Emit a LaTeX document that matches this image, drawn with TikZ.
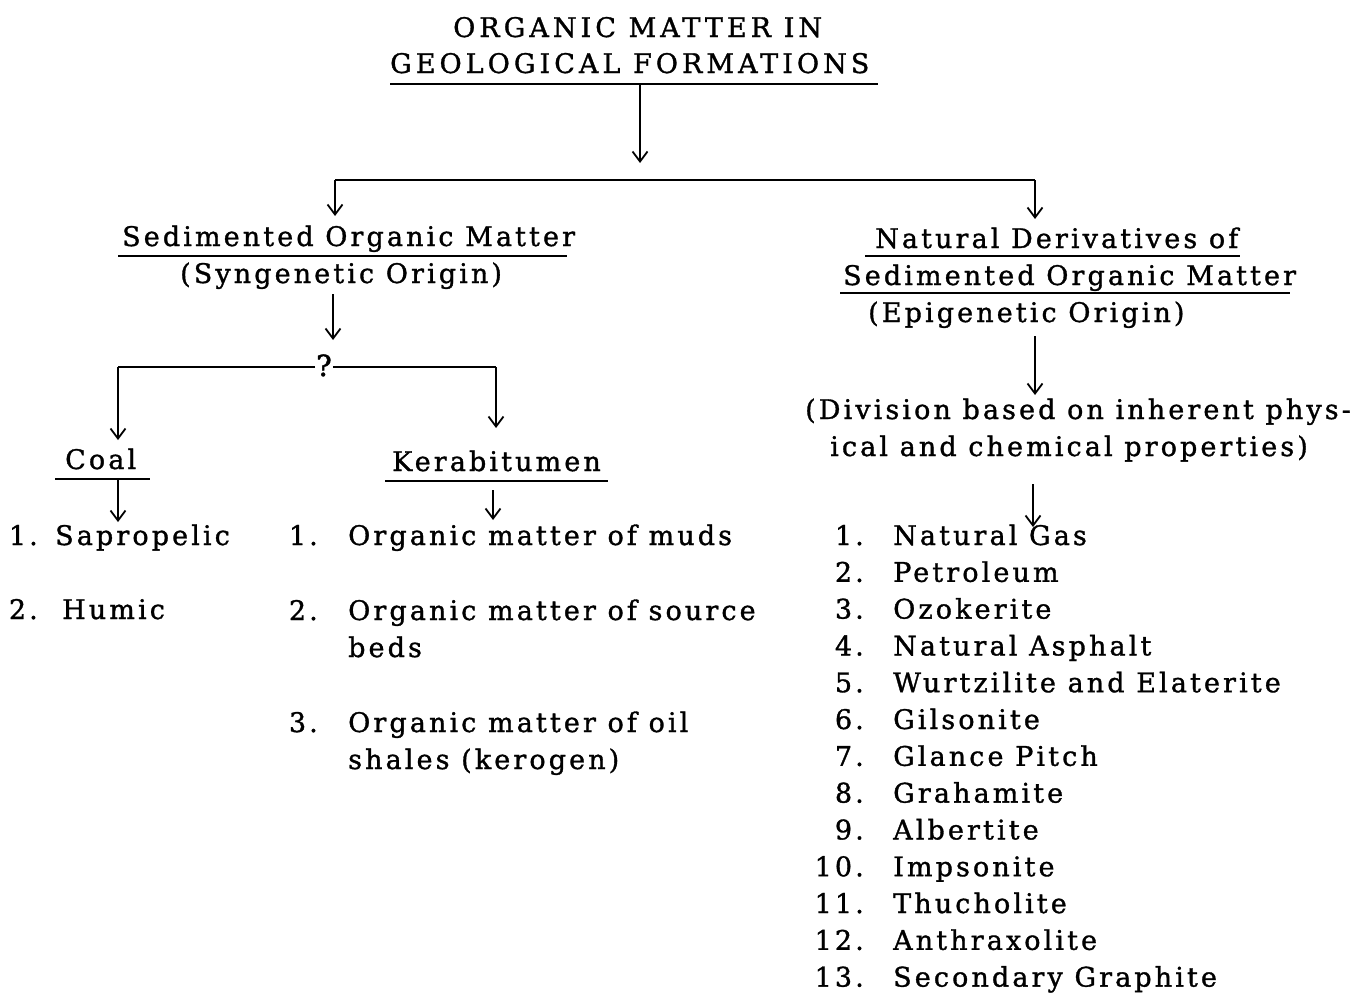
\documentclass[tikz,border=0pt]{standalone}
\usepackage{fontspec}
\setmainfont{DejaVu Serif}[LetterSpace=11.5,FakeBold=1.2]
\newfontfamily\titlefont{DejaVu Serif}[LetterSpace=15,FakeBold=1.2]
\newfontfamily\qfont{DejaVu Serif}[FakeBold=1.6]
\usetikzlibrary{arrows.meta}
\begin{document}
\begin{tikzpicture}[x=1pt,y=-1pt,
  txt/.style={anchor=base west,inner sep=0pt,font=\fontsize{27}{31}\selectfont},
  ttl/.style={anchor=base west,inner sep=0pt,font=\titlefont\fontsize{27}{31}\selectfont},
  num/.style={anchor=base east,inner sep=0pt,font=\fontsize{27}{31}\selectfont},
  ln/.style={line width=2pt},
  uline/.style={line width=2.2pt},
  arr/.style={line width=2pt,-{Straight Barb[length=10pt,width=15pt,line width=1.8pt]}}]
\useasboundingbox (0,0) rectangle (1358,993);
% title
\node[ttl] (t1) at (453,37) {ORGANIC MATTER IN};
\node[ttl] (t2) at (390,73) {GEOLOGICAL FORMATIONS};
\draw[uline] (390,84) -- (878,84);
% level 2
\node[txt] (s1) at (122,246) {Sedimented Organic Matter};
\draw[uline] (118,256) -- (567,256);
\node[txt] (s2) at (180,283) {(Syngenetic Origin)};
\node[txt] (n1) at (875,248) {Natural Derivatives of};
\draw[uline] (865,256) -- (1240,256);
\node[txt] (n2) at (843,285) {Sedimented Organic Matter};
\draw[uline] (840,293) -- (1290,293);
\node[txt] (n3) at (868,322) {(Epigenetic Origin)};
% question
\node[anchor=base,inner sep=1pt,font=\qfont\fontsize{29}{31}\selectfont] (q) at (324,376) {?};
% level 3
\node[txt] (coal) at (65,469) {Coal};
\draw[uline] (55,479) -- (150,479);
\node[txt] (ker) at (392,471) {Kerabitumen};
\draw[uline] (385,481) -- (608,481);
\node[txt] (d1) at (805,419) {(Division based on inherent phys-};
\node[txt] (d2) at (830,456) {ical and chemical properties)};
% left list
\node[num] (l1n) at (38,545) {1.};
\node[txt] (l1) at (55,545) {Sapropelic};
\node[num] (l2n) at (38,619) {2.};
\node[txt] (l2) at (62,619) {Humic};
% middle list
\node[num] (m1n) at (318,545) {1.};
\node[txt] (m1) at (348,545) {Organic matter of muds};
\node[num] (m2n) at (318,620) {2.};
\node[txt] (m2) at (348,620) {Organic matter of source};
\node[txt] (m2b) at (348,657) {beds};
\node[num] (m3n) at (318,732) {3.};
\node[txt] (m3) at (348,732) {Organic matter of oil};
\node[txt] (m3b) at (348,769) {shales (kerogen)};
% right list
\foreach \i/\t [count=\k from 0] in {1/Natural Gas,2/Petroleum,3/Ozokerite,4/Natural Asphalt,5/Wurtzilite and Elaterite,6/Gilsonite,7/Glance Pitch,8/Grahamite,9/Albertite,10/Impsonite,11/Thucholite,12/Anthraxolite,13/Secondary Graphite}{
  \node[num] (r\i n) at (864,545+36.8*\k) {\i.};
  \node[txt] (r\i) at (893,545+36.8*\k) {\t};
}
% connectors
\coordinate (a1s) at (640,84);
\coordinate (a1e) at (640,163);
\draw[arr] (a1s) -- (a1e);
\coordinate (bL) at (335,180);
\coordinate (bR) at (1035,180);
\coordinate (bLe) at (335,216);
\coordinate (bRe) at (1035,219);
\draw[ln] (bL) -- (bR);
\draw[arr] (bL) -- (bLe);
\draw[arr] (bR) -- (bRe);
\coordinate (a4s) at (333,294);
\coordinate (a4e) at (333,340);
\draw[arr] (a4s) -- (a4e);
\coordinate (qL) at (118,367);
\coordinate (qR) at (496,367);
\coordinate (qLe) at (118,440);
\coordinate (qRe) at (496,428);
\draw[ln] (q.west |- qL) -- (qL);
\draw[arr] (qL) -- (qLe);
\draw[ln] (q.east |- qR) -- (qR);
\draw[arr] (qR) -- (qRe);
\coordinate (cs) at (118,479);
\coordinate (ce) at (118,522);
\draw[arr] (cs) -- (ce);
\coordinate (ks) at (493,490);
\coordinate (ke) at (493,520);
\draw[arr] (ks) -- (ke);
\coordinate (es) at (1035,336);
\coordinate (ee) at (1035,395);
\draw[arr] (es) -- (ee);
\coordinate (ds) at (1033,484);
\coordinate (de) at (1033,527);
\draw[arr] (ds) -- (de);
\end{tikzpicture}
\end{document}
